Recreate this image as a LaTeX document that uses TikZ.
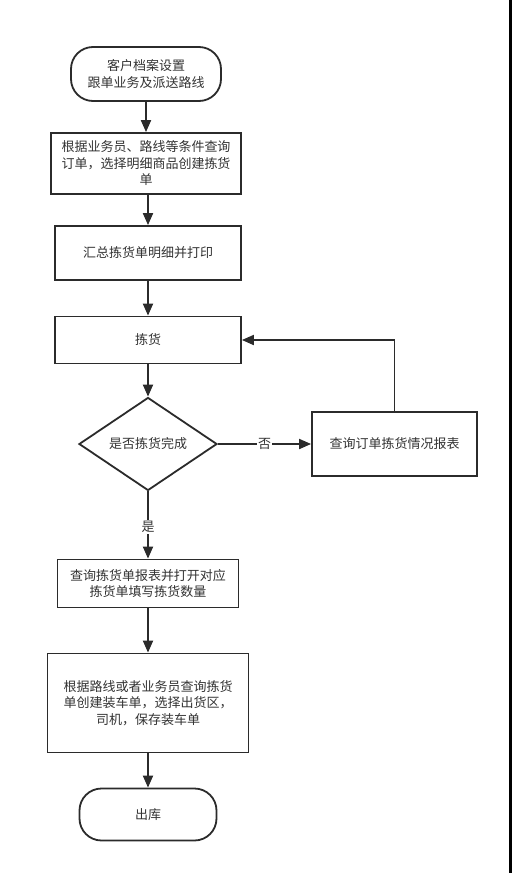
\documentclass[tikz,border=0pt]{standalone}
\usepackage{fontspec}
\setmainfont{Noto Sans CJK SC}
\usetikzlibrary{shapes.geometric,arrows.meta}
\definecolor{linecol}{HTML}{2B2B2B}
\definecolor{textcol}{HTML}{333333}
\begin{document}
\begin{tikzpicture}[x=1pt,y=-1pt,
  every node/.style={font=\fontsize{13}{16.5}\selectfont, text=textcol, align=center, inner sep=0pt},
  procbox/.style={draw=linecol, line width=1.8pt, rectangle, fill=white},
  termbox/.style={draw=linecol, line width=1.8pt, rectangle, rounded corners=22pt, fill=white},
  decbox/.style={draw=linecol, line width=1.8pt, diamond, aspect=1.48, fill=white},
  flow/.style={draw=linecol, line width=1.8pt, -{Triangle[length=12pt,width=10pt]}},
  edgelabel/.style={fill=white, inner sep=1pt}
]
\useasboundingbox (0,0) rectangle (512,873);
\fill[white] (0,0) rectangle (512,873);
\fill[black] (509,0) rectangle (512,873);

\node[termbox, minimum width=150pt, minimum height=54pt] (start) at (146,74) {客户档案设置\\跟单业务及派送路线};
\node[procbox, minimum width=190pt, minimum height=61pt] (b2) at (146,163.5) {根据业务员、路线等条件查询\\订单，选择明细商品创建拣货\\单};
\node[procbox, minimum width=186pt, minimum height=54pt] (b3) at (148,253) {汇总拣货单明细并打印};
\node[procbox, minimum width=186pt, minimum height=47pt] (b4) at (148,340) {拣货};
\node[decbox, minimum width=138pt, minimum height=93pt] (dia) at (148,444) {是否拣货完成};
\node[procbox, minimum width=165pt, minimum height=64pt] (b5) at (394.5,444) {查询订单拣货情况报表};
\node[procbox, minimum width=181pt, minimum height=48pt] (b6) at (148,583.5) {查询拣货单报表并打开对应\\拣货单填写拣货数量};
\node[procbox, minimum width=201pt, minimum height=99pt] (b7) at (148,703) {根据路线或者业务员查询拣货\\单创建装车单，选择出货区，\\司机，保存装车单};
\node[termbox, minimum width=137pt, minimum height=52pt] (end) at (148,814.5) {出库};

\draw[flow] (start.south) -- (start.south |- b2.north);
\draw[flow] (b2.south -| b3.north) -- (b3.north);
\draw[flow] (b3) -- (b4);
\draw[flow] (b4) -- (dia);
\draw[flow] (dia.east) -- node[edgelabel, pos=0.5] {否} (b5.west);
\draw[flow] (b5.north) |- (b4.east);
\draw[flow] (dia.south) -- node[edgelabel, pos=0.53] {是} (b6.north);
\draw[flow] (b6) -- (b7);
\draw[flow] (b7) -- (end);
\end{tikzpicture}
\end{document}
